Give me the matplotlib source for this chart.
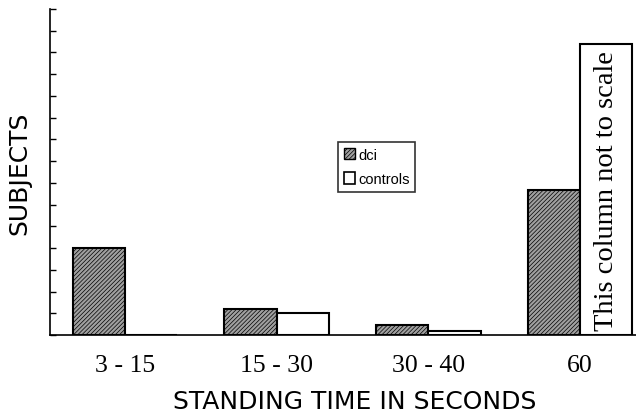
import numpy as np
import matplotlib.pyplot as plt
from matplotlib.patches import Patch

# values (y units = tick steps)
categories = ["3 - 15", "15 - 30", "30 - 40", "60"]
dci = [4.0, 1.2, 0.45, 6.65]
controls = [0.0, 1.0, 0.2, 13.4]

plt.rcParams['hatch.linewidth'] = 0.5
fig = plt.figure(figsize=(6.36, 4.14), dpi=100)
ax = fig.add_axes([50 / 636, 78 / 414, 586 / 636, 326 / 414])

x = np.arange(len(categories))
w = 0.345
ax.bar(x - w / 2, dci, w, facecolor="#a0a0a0", edgecolor="black",
       hatch="////////", linewidth=1.5)
ax.bar(x + w / 2, controls, w, facecolor="white", edgecolor="black",
       linewidth=1.5)

ax.text(x[3] + w / 2, controls[3] / 2 - 0.05, "This column not to scale",
        rotation=90, ha="center", va="center", fontsize=20.5,
        family="Liberation Serif")

ax.set_xlim(-0.494, 3.37)
ax.set_ylim(0, 15)
ax.set_yticks(np.arange(0, 16, 1))
ax.set_yticklabels([])
ax.tick_params(axis="y", direction="in", length=4, width=1)
ax.set_xticks(x)
ax.set_xticklabels(categories, fontsize=18.5, family="Liberation Serif")
ax.tick_params(axis="x", length=0, pad=14)

for s in ["top", "right"]:
    ax.spines[s].set_visible(False)
ax.spines["left"].set_linewidth(1.2)
ax.spines["bottom"].set_linewidth(1.2)

ax.set_xlabel("STANDING TIME IN SECONDS", fontsize=18, labelpad=6)
ax.xaxis.set_label_coords(0.52, -0.165)
ax.set_ylabel("SUBJECTS", fontsize=18, labelpad=10)

handles = [Patch(facecolor="#a0a0a0", edgecolor="black", hatch="////////", label="dci"),
           Patch(facecolor="white", edgecolor="black", linewidth=1.2, label="controls")]
leg = ax.legend(handles=handles, loc="upper left", bbox_to_anchor=(0.491, 0.592),
                fancybox=False, framealpha=1, edgecolor="#333333",
                prop={"family": "Liberation Sans", "size": 10.5},
                handlelength=0.8, handleheight=0.8, handletextpad=0.2,
                borderpad=0.4, labelspacing=0.7, borderaxespad=0)
leg.get_frame().set_linewidth(1.2)

fig.savefig("out.png", dpi=100)
